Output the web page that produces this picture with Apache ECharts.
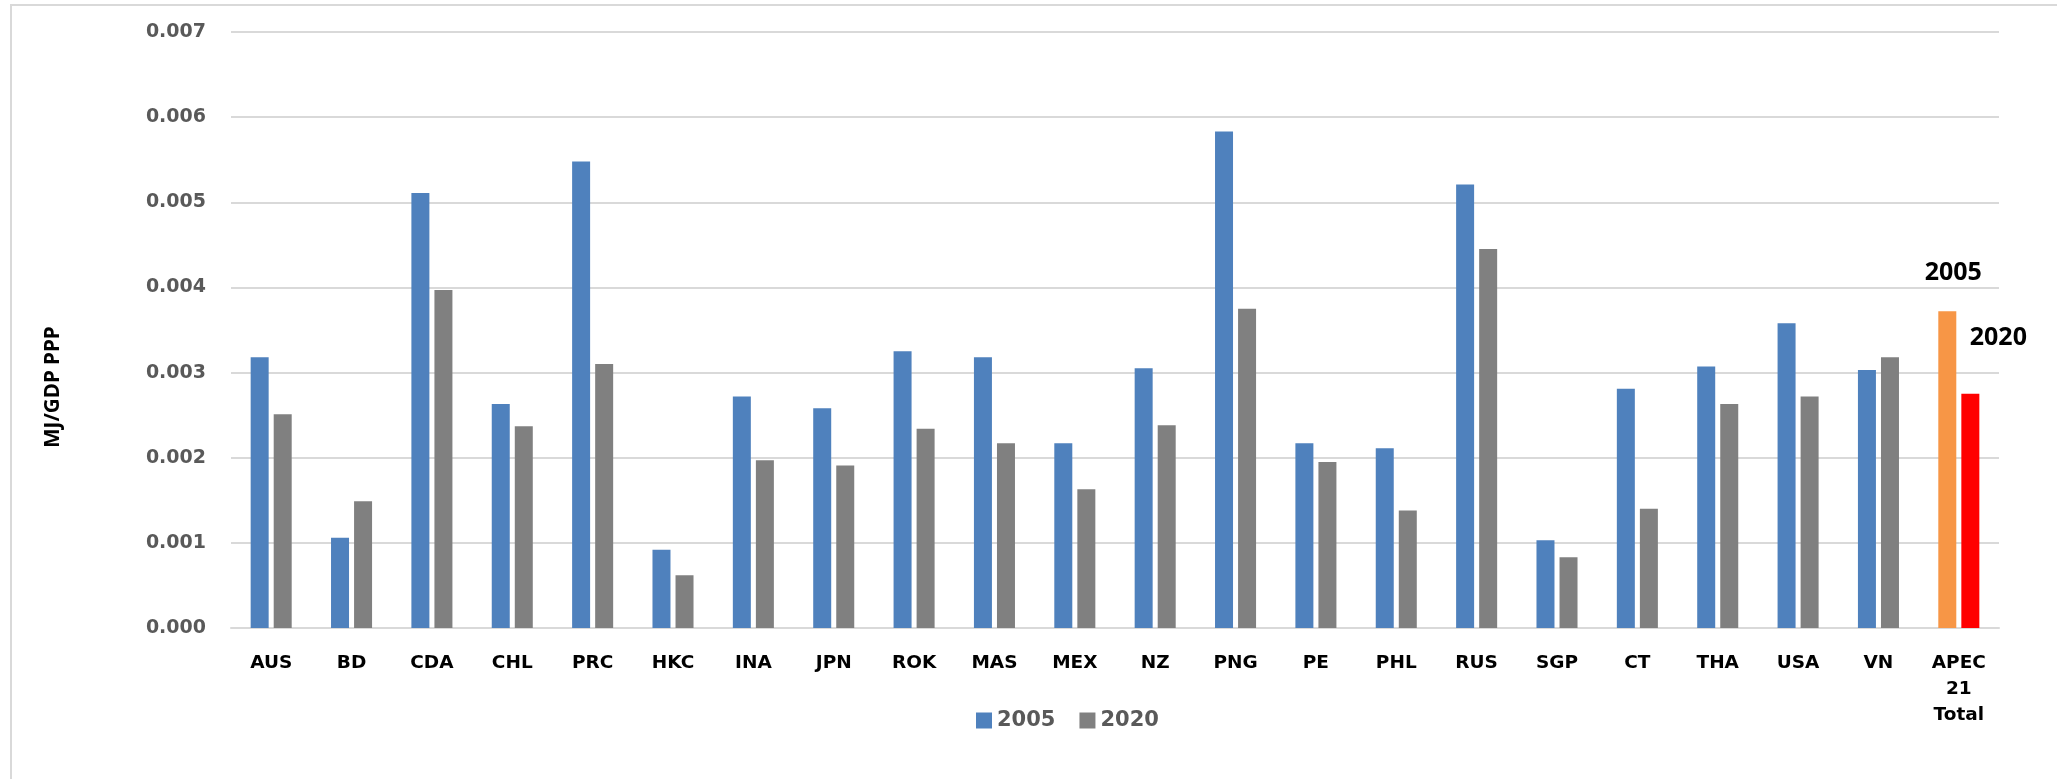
<!DOCTYPE html>
<html>
<head>
<meta charset="utf-8">
<script src="https://cdn.jsdelivr.net/npm/echarts@6/dist/echarts.min.js"></script>
<style>
html,body{margin:0;padding:0;background:#fff;}
#c{width:2057px;height:779px;}
</style>
</head>
<body>
<div id="c"></div>
<script>
const categories = ["AUS","BD","CDA","CHL","PRC","HKC","INA","JPN","ROK","MAS","MEX","NZ","PNG","PE","PHL","RUS","SGP","CT","THA","USA","VN","APEC\n21\nTotal"];
const values2005 = [0.00318,0.00106,0.00511,0.00263,0.00548,0.00092,0.00272,0.00258,0.00325,0.00318,0.00217,0.00305,0.00583,0.00217,0.00211,0.00521,0.00103,0.00281,0.00307,0.00358,0.00303,0.00372];
const values2020 = [0.00251,0.00149,0.00397,0.00237,0.00310,0.00062,0.00197,0.00191,0.00234,0.00217,0.00163,0.00238,0.00375,0.00195,0.00138,0.00445,0.00083,0.00140,0.00263,0.00272,0.00318,0.00275];
const seriesNames = ["2005","2020"];
const yTicks = {min:0, max:0.007, interval:0.001};

const lastIdx = categories.length - 1;
const d2005 = values2005.map((v,i)=> i===lastIdx ? {value:v, itemStyle:{color:'#F79646'},
  label:{show:true, formatter:'2005', position:'top', distance:26, offset:[6,0], color:'#000', fontFamily:'Noto Sans', fontWeight:'bold', fontSize:25}} : v);
const d2020 = values2020.map((v,i)=> i===lastIdx ? {value:v, itemStyle:{color:'#FF0000'},
  label:{show:true, formatter:'2020', position:'top', distance:43, offset:[28,0], color:'#000', fontFamily:'Noto Sans', fontWeight:'bold', fontSize:25}} : v);

const chart = echarts.init(document.getElementById('c'), null, {renderer:'canvas'});
chart.setOption({
  animation:false,
  backgroundColor:'#fff',
  graphic:[
    {type:'rect', shape:{x:11, y:5, width:2100, height:900}, style:{fill:'none', stroke:'#D9D9D9', lineWidth:2}, silent:true, z:-10},
    {type:'text', x:53, y:387, rotation:Math.PI/2, style:{text:'MJ/GDP PPP', fontFamily:'Open Sans', fontWeight:'bold', fontSize:20.5, fill:'#000', align:'center', verticalAlign:'middle'}}
  ],
  grid:{left:231, right:58, top:32, bottom:151},
  legend:{
    data:seriesNames, bottom:43, left:971, itemWidth:16, itemHeight:16, itemGap:24,
    icon:'rect',
    textStyle:{fontFamily:'DejaVu Sans', fontWeight:'bold', fontSize:21, color:'#595959'}
  },
  xAxis:{
    type:'category', data:categories,
    axisLine:{lineStyle:{color:'#D9D9D9', width:2}},
    axisTick:{show:false},
    axisLabel:{interval:0, margin:22, fontFamily:'DejaVu Sans', fontWeight:'bold', fontSize:18.5, color:'#000', lineHeight:26}
  },
  yAxis:{
    type:'value', min:yTicks.min, max:yTicks.max, interval:yTicks.interval,
    axisLine:{show:false}, axisTick:{show:false},
    splitLine:{lineStyle:{color:'#D9D9D9', width:2}},
    axisLabel:{margin:25, fontFamily:'DejaVu Sans', fontWeight:'bold', fontSize:19, color:'#595959', formatter:v=>v.toFixed(3)}
  },
  series:[
    {name:seriesNames[0], type:'bar', data:d2005, barWidth:18, barGap:'28%', itemStyle:{color:'#4F81BD'}},
    {name:seriesNames[1], type:'bar', data:d2020, barWidth:18, barGap:'28%', itemStyle:{color:'#808080'}}
  ]
});
</script>
</body>
</html>
